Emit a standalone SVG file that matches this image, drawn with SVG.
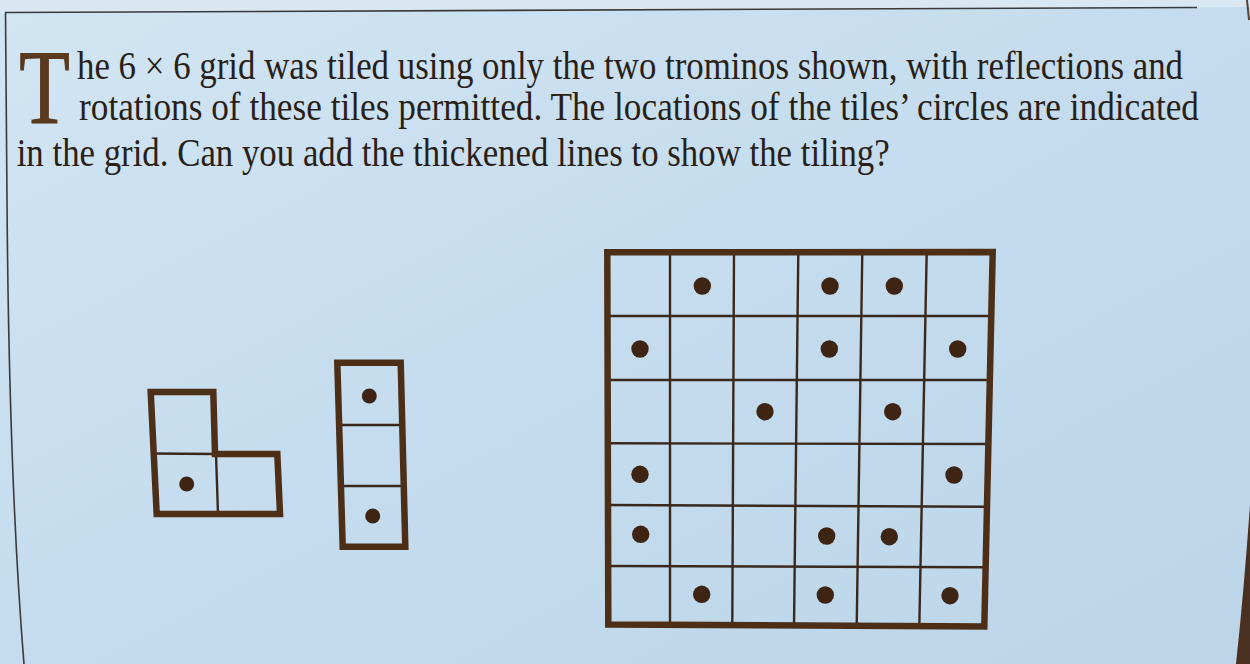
<svg xmlns="http://www.w3.org/2000/svg" width="1250" height="664" viewBox="0 0 1250 664">
<defs>
<linearGradient id="bg" x1="0" y1="0" x2="1" y2="1">
<stop offset="0" stop-color="#d2e5f3"/>
<stop offset="0.5" stop-color="#c4dcee"/>
<stop offset="1" stop-color="#bcd5e8"/>
</linearGradient>
<style>
.txt{font-family:"Liberation Serif","Times New Roman",serif;font-size:39px;fill:#2a1f18}
.cap{font-family:"Liberation Serif","Times New Roman",serif;font-size:106px;fill:#5a3a1f;stroke:#5a3a1f;stroke-width:1.2}
.frame{fill:none;stroke:#4d2f18;stroke-width:6.5;stroke-linejoin:miter}
.thin{stroke:#3a281c;stroke-width:2.4;fill:none}
.dot{fill:#3e2413}
.rule{stroke:#3a3a3a;stroke-width:1.6;fill:none}
</style>
</defs>
<rect width="1250" height="664" fill="url(#bg)"/>
<path d="M0,0 H1250 V7 L1197,7.5 L5,12.5 L0,12.5 Z" fill="#d8e7f2"/>
<path d="M1250,505 Q1244,590 1236,664 H1250 Z" fill="#4a3020"/>
<path d="M1247,0 L1249,20" stroke="#5a4030" stroke-width="2"/>
<path class="rule" d="M5,12.5 L1197,7.5"/>
<path class="rule" d="M5.5,12.5 L7,200 Q9,480 24,664"/>

<g id="caption">
<text class="cap" transform="translate(19.3,123.3) scale(0.78,1)" x="0" y="0">T</text>
<text class="txt" transform="translate(77,79) scale(0.867,1)" x="0" y="0" textLength="1275.7" lengthAdjust="spacingAndGlyphs">he 6 × 6 grid was tiled using only the two trominos shown, with reflections and</text>
<text class="txt" transform="translate(79,120) scale(0.867,1)" x="0" y="0" textLength="1291.8" lengthAdjust="spacingAndGlyphs">rotations of these tiles permitted. The locations of the tiles’ circles are indicated</text>
<text class="txt" transform="translate(16.7,166) scale(0.867,1)" x="0" y="0" textLength="1006.9" lengthAdjust="spacingAndGlyphs">in the grid. Can you add the thickened lines to show the tiling?</text>
</g>

<g id="tromino-L">
<path class="thin" d="M152,453.5 L215,454 M216,454 L218,514"/>
<path class="frame" d="M150.7,392 L213.3,392 L215,454 L277.3,454 L280,514 L156.7,514 Z"/>
<circle class="dot" cx="186.7" cy="484" r="7.5"/>
</g>

<g id="tromino-I">
<path class="thin" d="M339.5,425 L402.5,425 M341.5,486 L404,486"/>
<path class="frame" d="M337.3,362.7 L400.7,362.7 L405.3,546.7 L342.7,546.7 Z"/>
<circle class="dot" cx="369.3" cy="396" r="7.5"/>
<circle class="dot" cx="372.7" cy="516" r="7.5"/>
</g>

<g id="grid">
<path class="thin" d="M670,252 L670,625.5 M734,252 L732.3,625.7 M798.3,252 L794,626 M862.3,252 L856.7,626.2 M926.7,252 L919.3,626.4"/>
<path class="thin" d="M607.5,316 L991.5,316 M607.7,380 L990,380 M607.8,443.3 L988.4,444 M608,505 L987,506.7 M608.1,566 L985.5,567.3"/>
<path class="frame" d="M607.3,252.3 L992.7,252 L984.3,626.5 L608.3,624.5 Z"/>
<g class="dot">
<circle cx="702.3" cy="286" r="8.7"/>
<circle cx="830" cy="286" r="8.7"/>
<circle cx="894.3" cy="286" r="8.7"/>
<circle cx="640" cy="349" r="8.7"/>
<circle cx="829.3" cy="349" r="8.7"/>
<circle cx="957.7" cy="349" r="8.7"/>
<circle cx="765" cy="411.7" r="8.7"/>
<circle cx="892.7" cy="411.7" r="8.7"/>
<circle cx="640" cy="474.3" r="8.7"/>
<circle cx="954" cy="475" r="8.7"/>
<circle cx="640.7" cy="534.3" r="8.7"/>
<circle cx="826.7" cy="536" r="8.7"/>
<circle cx="889.3" cy="536.7" r="8.7"/>
<circle cx="701.7" cy="594.3" r="8.7"/>
<circle cx="825.3" cy="595" r="8.7"/>
<circle cx="950" cy="595.7" r="8.7"/>
</g>
</g>
</svg>
